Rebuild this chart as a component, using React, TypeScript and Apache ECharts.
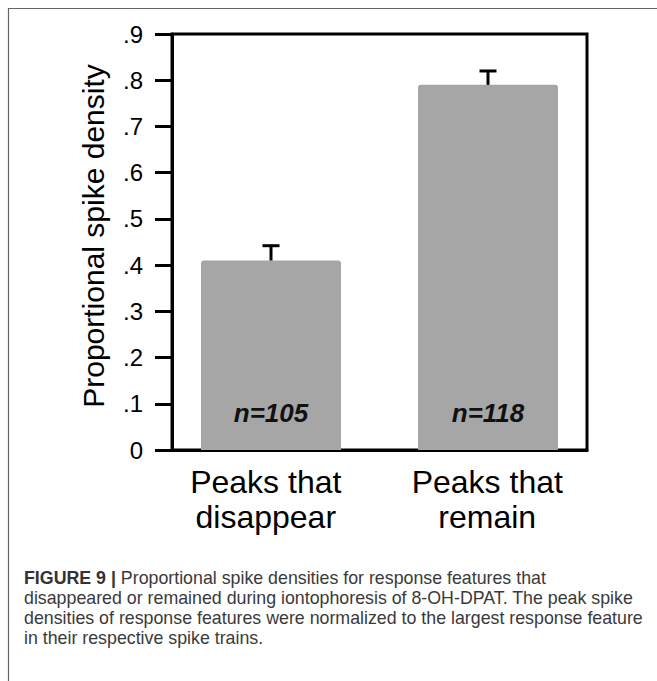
import React, { useEffect, useRef } from "react";
import * as echarts from "echarts";

const categories = ["Peaks that\ndisappear", "Peaks that\nremain"];
const means = [0.41, 0.79];
const upperErrors = [0.442, 0.82];
const nLabels = ["n=105", "n=118"];
const yTicks = [0, 0.1, 0.2, 0.3, 0.4, 0.5, 0.6, 0.7, 0.8, 0.9];
const yAxisTitle = "Proportional spike density";
const captionBold = "FIGURE 9 |";
const captionLines = [
  " Proportional spike densities for response features that",
  "disappeared or remained during iontophoresis of 8-OH-DPAT. The peak spike",
  "densities of response features were normalized to the largest response feature",
  "in their respective spike trains.",
];

export default function App() {
  const ref = useRef<HTMLDivElement>(null);
  useEffect(() => {
    document.body.style.margin = "0";
    const chart = echarts.init(ref.current!, null, { renderer: "svg" });
    const font = "'Liberation Sans', Arial, sans-serif";
    const barWidth = 140;
    const barGapPx = -130.5;
    const shift = (barWidth + barGapPx) / 2;
    const labelPads = [
      [0, 20, 0, 0],
      [0, 0, 0, 8],
    ];
    const barSeries = means.map((m, i) => ({
      type: "bar",
      data: categories.map((_, j) =>
        j === i ? { value: m, label: { formatter: nLabels[i] } } : "-"
      ),
      barWidth,
      barGap: (barGapPx / barWidth) * 100 + "%",
      itemStyle: { color: "#a6a6a6", borderRadius: [3, 3, 0, 0] },
      label: {
        show: true,
        position: "insideBottom",
        distance: 24,
        color: "#111",
        fontSize: 26,
        fontStyle: "italic",
        fontWeight: "bold",
        fontFamily: font,
      },
      z: 2,
    }));
    const option: any = {
      animation: false,
      backgroundColor: "#fff",
      grid: {
        left: 172,
        top: 34,
        width: 415,
        height: 416,
        show: true,
        borderColor: "#000",
        borderWidth: 3,
        backgroundColor: "transparent",
      },
      xAxis: {
        type: "category",
        data: categories.map((c, i) => ({
          value: c,
          textStyle: { padding: labelPads[i] },
        })),
        axisLine: { lineStyle: { color: "#000", width: 3 } },
        axisTick: { show: false },
        axisLabel: {
          color: "#000",
          fontSize: 32,
          lineHeight: 35,
          fontFamily: font,
          margin: 14,
        },
      },
      yAxis: {
        type: "value",
        min: 0,
        max: 0.9,
        interval: 0.1,
        name: yAxisTitle,
        nameLocation: "middle",
        nameGap: 64,
        nameTextStyle: { color: "#000", fontSize: 30, fontFamily: font, padding: [0, 0, 0, 12] },
        splitLine: { show: false },
        axisLine: { show: true, lineStyle: { color: "#000", width: 3 } },
        axisTick: { show: true, length: 17, lineStyle: { color: "#000", width: 3 } },
        axisLabel: {
          color: "#000",
          fontSize: 24,
          fontFamily: font,
          margin: 29,
          formatter: (v: number) => {
            const i = yTicks.findIndex((t) => Math.abs(t - v) < 1e-6);
            if (i === 0) return "0";
            return "." + i;
          },
        },
      },
      series: [
        ...barSeries,
        {
          type: "custom",
          data: means.map((m, i) => [i, m, upperErrors[i]]),
          renderItem: (params: any, api: any) => {
            const x = api.value(0);
            const dx = x === 0 ? -shift : shift;
            const lo = api.coord([x, api.value(1)]);
            const hi = api.coord([x, api.value(2)]);
            const half = 8.5;
            const style = { stroke: "#000", lineWidth: 3 };
            return {
              type: "group",
              children: [
                { type: "line", shape: { x1: lo[0] + dx, y1: lo[1], x2: hi[0] + dx, y2: hi[1] }, style },
                { type: "line", shape: { x1: hi[0] + dx - half, y1: hi[1], x2: hi[0] + dx + half, y2: hi[1] }, style },
              ],
            };
          },
          z: 3,
        },
      ],
      graphic: [
        {
          type: "rect",
          shape: { x: 8.5, y: 8.5, width: 700, height: 700 },
          style: { fill: "none", stroke: "#666", lineWidth: 1.2 },
          silent: true,
        },
        {
          type: "text",
          left: 24,
          top: 568,
          style: {
            text:
              "{b|" + captionBold + "}{r|" + captionLines[0] + "}\n{r|" +
              captionLines.slice(1).join("}\n{r|") + "}",
            fontFamily: font,
            fontSize: 17.8,
            lineHeight: 20,
            fill: "#3a3a3a",
            rich: {
              b: { fontWeight: "bold", fontSize: 17.8, fontFamily: font, fill: "#333", lineHeight: 20 },
              r: { fontSize: 17.8, fontFamily: font, fill: "#3a3a3a", lineHeight: 20 },
            },
          },
        },
      ],
    };
    chart.setOption(option);
    return () => chart.dispose();
  }, []);
  return <div ref={ref} style={{ width: 657, height: 681 }} />;
}
